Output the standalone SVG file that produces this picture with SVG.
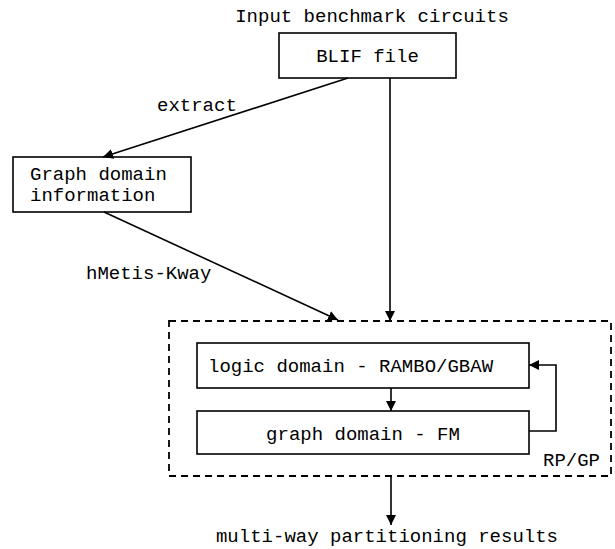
<svg xmlns="http://www.w3.org/2000/svg" width="615" height="549" viewBox="0 0 615 549">
<style>
text{font-family:"Liberation Mono","Courier New",monospace;font-size:19px;fill:#000}
.box{fill:#fff;stroke:#000;stroke-width:1.6}
.ln{fill:none;stroke:#000;stroke-width:1.6}
.dash{fill:none;stroke:#000;stroke-width:1.8;stroke-dasharray:7,5}
</style>
<defs>
<marker id="ah" viewBox="0 0 10 10" refX="10" refY="5" markerWidth="10" markerHeight="10" markerUnits="userSpaceOnUse" orient="auto">
<path d="M0,0 L10,5 L0,10 z" fill="#000"/>
</marker>
</defs>
<rect width="615" height="549" fill="#fff"/>
<text x="372" y="22" text-anchor="middle">Input benchmark circuits</text>
<g id="container">
<rect class="dash" x="169" y="321" width="442" height="155"/>
<text x="600" y="466" text-anchor="end">RP/GP</text>
</g>
<g id="blif">
<rect class="box" x="279" y="33" width="177" height="45"/>
<text x="367.5" y="62" text-anchor="middle">BLIF file</text>
</g>
<g id="graphinfo">
<rect class="box" x="13" y="157" width="178" height="55"/>
<text x="30" y="180">Graph domain</text>
<text x="30" y="201">information</text>
</g>
<g id="logic">
<rect class="box" x="197" y="343" width="332" height="45"/>
<text x="208" y="372">logic domain - RAMBO/GBAW</text>
</g>
<g id="graphfm">
<rect class="box" x="197" y="411" width="332" height="43"/>
<text x="363" y="440" text-anchor="middle">graph domain - FM</text>
</g>
<text x="387" y="542" text-anchor="middle">multi-way partitioning results</text>
<g id="connectors">
<line class="ln" x1="348" y1="78" x2="103" y2="157" marker-end="url(#ah)"/>
<text x="157" y="111">extract</text>
<line class="ln" x1="390" y1="78" x2="390" y2="321" marker-end="url(#ah)"/>
<line class="ln" x1="104" y1="212" x2="338" y2="320" marker-end="url(#ah)"/>
<text x="86" y="279">hMetis-Kway</text>
<line class="ln" x1="391" y1="388" x2="391" y2="411" marker-end="url(#ah)"/>
<polyline class="ln" points="529,431 556,431 556,365 529,365" marker-end="url(#ah)"/>
<line class="ln" x1="391" y1="476" x2="391" y2="525" marker-end="url(#ah)"/>
</g>
</svg>
